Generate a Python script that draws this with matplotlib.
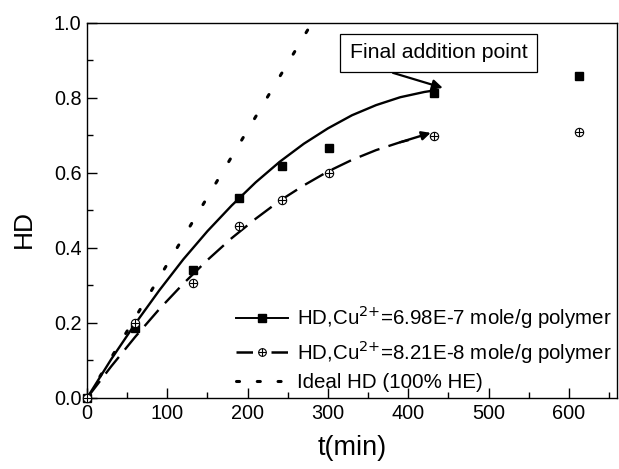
import matplotlib
matplotlib.use("Agg")
import matplotlib.pyplot as plt
from matplotlib.lines import Line2D
from matplotlib.ticker import MultipleLocator, FormatStrFormatter

plt.rcParams['font.family'] = ['Liberation Sans', 'DejaVu Sans']

# Measured hydrolysis degree (HD) vs time
t_points = [0, 60, 132, 189, 243, 301, 432, 613]
hd_high_cu = [0.0, 0.187, 0.341, 0.533, 0.619, 0.667, 0.813, 0.859]
hd_low_cu = [0.0, 0.200, 0.307, 0.459, 0.528, 0.600, 0.699, 0.709]

# Trend curves through the data up to the final addition point
t_curve = [0, 30, 60, 90, 120, 150, 180, 210, 240, 270, 300, 330, 360, 390, 420, 432]
hd_high_curve = [0.0, 0.103, 0.198, 0.287, 0.370, 0.445, 0.513, 0.575, 0.630,
                 0.678, 0.719, 0.754, 0.781, 0.802, 0.816, 0.820]
t_curve_low = [0, 30, 60, 90, 120, 150, 180, 210, 240, 270, 300, 330, 360, 390, 408]
hd_low_curve = [0.0, 0.084, 0.163, 0.237, 0.305, 0.368, 0.426, 0.478, 0.526,
                0.567, 0.604, 0.635, 0.661, 0.682, 0.692]
low_arrow_tip = (428, 0.707)

# Ideal HD at 100% hydrolysis efficiency
t_ideal = [0, 280]
hd_ideal = [0.0, 1.0]

label_high = r'HD,Cu$^{2{+}}$=6.98E-7 mole/g polymer'
label_low = r'HD,Cu$^{2{+}}$=8.21E-8 mole/g polymer'
label_ideal = 'Ideal HD (100% HE)'

note_text = 'Final addition point'
note_pos = (438, 0.921)
note_tail = (381, 0.867)
note_tip = (443, 0.827)

fig = plt.figure(figsize=(6.19, 4.69), dpi=100)
ax = fig.add_axes([0.1406, 0.1514, 0.8562, 0.7996])

ax.plot(t_curve, hd_high_curve, color='black', lw=1.7, solid_capstyle='butt')
ax.plot(t_curve_low, hd_low_curve, color='black', lw=1.7, dashes=(9, 4))
ax.annotate('', xy=low_arrow_tip, xytext=(t_curve_low[-2], hd_low_curve[-2]),
            arrowprops=dict(arrowstyle='-|>', color='black', lw=1.7,
                            mutation_scale=13, shrinkA=0, shrinkB=0))
ax.plot(t_ideal, hd_ideal, color='black', lw=2.2, dashes=(1.0, 7.2),
        dash_capstyle='round')

ax.plot(t_points, hd_high_cu, ls='none', marker='s', ms=6.3, color='black',
        clip_on=False, zorder=5)
ax.plot(t_points, hd_low_cu, ls='none', marker='o', ms=6, mfc='white',
        mec='black', mew=0.8, clip_on=False, zorder=5)
ax.plot(t_points, hd_low_cu, ls='none', marker='+', ms=6, mec='black',
        mew=0.8, clip_on=False, zorder=6)

ax.text(*note_pos, note_text, fontsize=15.3, ha='center', va='center', zorder=7,
        bbox=dict(boxstyle='square,pad=0.45', fc='white', ec='black', lw=0.9))
ax.annotate('', xy=note_tip, xytext=note_tail,
            arrowprops=dict(arrowstyle='-|>', color='black', lw=1.6,
                            mutation_scale=15, shrinkA=0, shrinkB=0))

ax.set_xlim(0, 660)
ax.set_ylim(0, 1.0)
ax.xaxis.set_major_locator(MultipleLocator(100))
ax.xaxis.set_minor_locator(MultipleLocator(50))
ax.yaxis.set_major_locator(MultipleLocator(0.2))
ax.yaxis.set_minor_locator(MultipleLocator(0.1))
ax.yaxis.set_major_formatter(FormatStrFormatter('%.1f'))
ax.tick_params(which='both', direction='in', top=False, right=False,
               labelsize=14.3, width=1.0)
ax.tick_params(which='major', length=7, pad=4)
ax.tick_params(which='minor', length=4.5)
for s in ax.spines.values():
    s.set_linewidth(1.0)

ax.set_xlabel('t(min)', fontsize=19.5)
ax.set_ylabel('HD', fontsize=19)
ax.xaxis.set_label_coords(0.5, -0.098)
ax.yaxis.set_label_coords(-0.097, 0.45)

h_high = Line2D([], [], color='black', lw=1.4, marker='s', ms=6.3)
h_low_o = Line2D([], [], color='black', lw=1.8, ls=(0, (6.6, 7.4)), marker='o',
                 ms=5.5, mfc='white', mew=0.8)
h_low_p = Line2D([], [], ls='none', marker='+', ms=5.5, color='black', mew=0.8)
h_ideal = Line2D([], [], color='black', lw=2.2, dashes=(1.0, 5.8),
                 dash_capstyle='round')
ax.legend([h_high, (h_low_o, h_low_p), h_ideal], [label_high, label_low, label_ideal],
          loc='lower right', frameon=False, fontsize=14.8, handlelength=2.5,
          handletextpad=0.45, labelspacing=0.35, borderaxespad=0.0,
          borderpad=0.1, bbox_to_anchor=(0.994, 0.011))

fig.savefig('out.png', dpi=100)
